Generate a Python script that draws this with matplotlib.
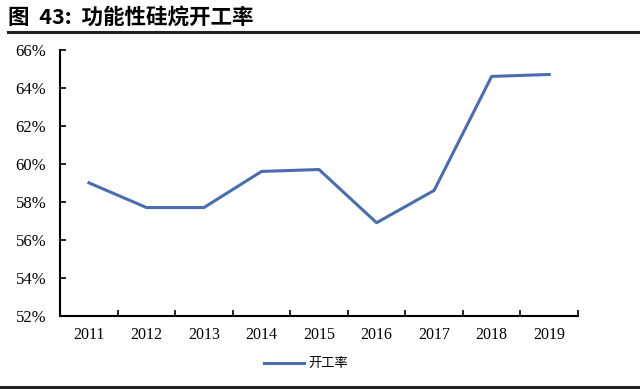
import matplotlib
matplotlib.use("Agg")
import matplotlib.pyplot as plt
from matplotlib.lines import Line2D
from matplotlib.ticker import FuncFormatter, MultipleLocator

# 数据
years = ["2011", "2012", "2013", "2014", "2015", "2016", "2017", "2018", "2019"]
rate = [59.0, 57.7, 57.7, 59.6, 59.7, 56.9, 58.6, 64.6, 64.7]

cjk = ["Noto Sans CJK SC", "DejaVu Sans"]
serif = ["Liberation Serif", "DejaVu Serif"]

fig = plt.figure(figsize=(6.4, 3.89), dpi=100)
ax = fig.add_axes([0.094, 0.188, 0.809, 0.684])

x = [i + 0.5 for i in range(len(years))]
ax.plot(x, rate, color="#4A6DAD", lw=2.2, label="开工率")

ax.set_xlim(0, len(years))
ax.set_ylim(52, 66)
ax.yaxis.set_major_locator(MultipleLocator(2))
ax.yaxis.set_major_formatter(FuncFormatter(lambda v, p: f"{v:.0f}%"))
ax.set_xticks(range(len(years) + 1))
ax.set_xticklabels([])
ax.set_xticks(x, minor=True)
ax.set_xticklabels(years, minor=True)
ax.tick_params(axis="x", which="minor", length=0, pad=8)
ax.tick_params(axis="x", which="major", direction="in", length=4, width=1.2)
ax.tick_params(axis="y", direction="in", length=4, width=1.2, pad=10)
for lab in ax.get_xticklabels(minor=True):
    lab.set_family(serif)
    lab.set_fontsize(11.5)
for lab in ax.get_yticklabels():
    lab.set_family(serif)
    lab.set_fontsize(12)

for s in ["top", "right"]:
    ax.spines[s].set_visible(False)
for s in ["left", "bottom"]:
    ax.spines[s].set_linewidth(1.5)

leg = ax.legend(loc="center", bbox_to_anchor=(0.475, -0.18), frameon=False,
                prop={"family": cjk, "size": 9.5}, handlelength=3.0, handletextpad=0.3)

# 标题与分隔线
fig.text(0.012, 0.953, "图  43:  功能性硅烷开工率", family=cjk, fontsize=15.5,
         fontweight="bold", va="center")
fig.add_artist(Line2D([0.012, 1.0], [0.918, 0.918], color="#222222", lw=2.2))
fig.add_artist(Line2D([0.0, 1.0], [0.006, 0.006], color="#222222", lw=2.2))

fig.savefig("out.png", dpi=100)
